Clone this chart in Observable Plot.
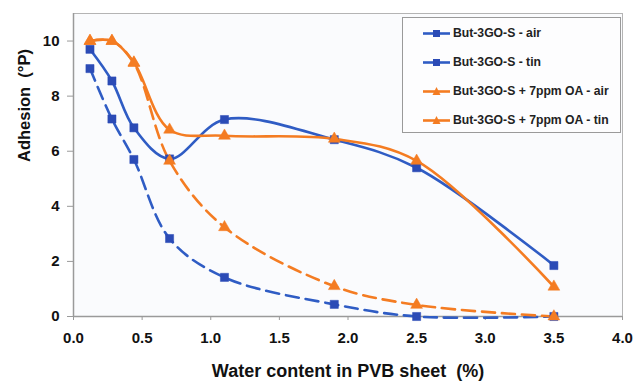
<!DOCTYPE html>
<html>
<head>
<meta charset="utf-8">
<script src="https://cdn.jsdelivr.net/npm/d3@7"></script>
<script src="https://cdn.jsdelivr.net/npm/@observablehq/plot@0.6"></script>
<style>
  body { margin: 0; background: #fff; }
  #wrap { position: relative; width: 633px; height: 386px; font-family: "Liberation Sans", Arial, sans-serif; }
  #legend { position: absolute; left: 402px; top: 17px; width: 219px; height: 116px; border: 1px solid #9a9a9a; background: #fdfdfe; box-sizing: border-box; }
  .item { position: absolute; left: 20px; height: 14px; display: flex; align-items: center; font-weight: bold; font-size: 12.2px; color: #222; white-space: nowrap; }
  .item svg { margin-right: 2px; }
</style>
</head>
<body>
<div id="wrap"><div id="chart"></div><div id="legend"></div></div>
<script>
const water = [0.12, 0.28, 0.44, 0.7, 1.1, 1.9, 2.5, 3.5];
const seriesNames = ["But-3GO-S - air", "But-3GO-S - tin", "But-3GO-S + 7ppm OA - air", "But-3GO-S + 7ppm OA - tin"];
const butAir = [9.7, 8.55, 6.85, 5.72, 7.15, 6.42, 5.4, 1.85];
const butTin = [9.0, 7.17, 5.7, 2.83, 1.42, 0.44, 0.0, 0.0];
const oaAir = [10.0, 10.0, 9.22, 6.78, 6.56, 6.45, 5.65, 1.08];
const oaTin = [10.0, 10.0, 9.2, 5.65, 3.24, 1.1, 0.42, 0.0];
const xTicks = [0, 0.5, 1, 1.5, 2, 2.5, 3, 3.5, 4];
const yTicks = [0, 2, 4, 6, 8, 10];

const blue = "#2b4bb6";
const blueLine = "#2f5cc4";
const orange = "#f47c22";

const seriesVals = [butAir, butTin, oaAir, oaTin];
const styles = [
  {stroke: blueLine, fill: blue, dash: null, symbol: "square", r: 4.6},
  {stroke: blueLine, fill: blue, dash: "13,7", symbol: "square", r: 4.6},
  {stroke: orange, fill: orange, dash: null, symbol: "triangle", r: 4.4},
  {stroke: orange, fill: orange, dash: "13,7", symbol: "triangle", r: 4.4}
];
const table = seriesNames.map((name, i) => water.map((x, j) => ({series: name, x, y: seriesVals[i][j]})));

const marks = [
  Plot.frame({fill: "#fafbfd", stroke: "#b4b4b4"}),
  Plot.ruleY([0], {stroke: "#9a9a9a", strokeWidth: 1.5}),
  Plot.ruleX([0], {stroke: "#9a9a9a", strokeWidth: 1.5}),
  Plot.axisY({ticks: yTicks, tickSize: 6, tickPadding: 8, label: null, stroke: "#9a9a9a", fontSize: 15, fontWeight: "bold"}),
  Plot.axisX({ticks: xTicks, tickSize: 4, tickPadding: 12, tickFormat: d => d.toFixed(1), label: null, stroke: "#9a9a9a", fontSize: 15, fontWeight: "bold"}),
  Plot.text(["Water content in PVB sheet  (%)"], {frameAnchor: "bottom", dy: 60, fontSize: 18, fontWeight: "bold", fill: "#111"}),
  Plot.text(["Adhesion  (°P)"], {frameAnchor: "left", dx: -49, dy: -3, rotate: -90, fontSize: 16.5, fontWeight: "bold", fill: "#111"})
];
[0, 1, 2, 3].forEach(i => {
  const s = styles[i];
  marks.push(Plot.line(table[i], {x: "x", y: "y", curve: "catmull-rom", stroke: s.stroke, strokeWidth: 2.6, strokeDasharray: s.dash}));
});
[0, 1, 2, 3].forEach(i => {
  const s = styles[i];
  marks.push(Plot.dot(table[i], {x: "x", y: "y", symbol: s.symbol, r: s.r, fill: s.fill, stroke: s.fill, strokeWidth: 0.5}));
});

const chart = Plot.plot({
  width: 633, height: 386,
  marginLeft: 73, marginRight: 11, marginTop: 13, marginBottom: 70,
  style: {fontFamily: "'Liberation Sans', Arial, sans-serif", color: "#111", background: "#fff"},
  x: {domain: [0, 4]},
  y: {domain: [0, 11]},
  marks
});
document.getElementById("chart").appendChild(chart);

const legend = document.getElementById("legend");
const tops = [8, 37, 66, 95];
seriesNames.forEach((name, i) => {
  const s = styles[i];
  const it = document.createElement("div");
  it.className = "item";
  it.style.top = tops[i] + "px";
  const marker = s.symbol === "square"
    ? `<rect x="10" y="4" width="7" height="7" fill="${s.fill}"/>`
    : `<path d="M13.5,3 L17.5,11 L9.5,11 Z" fill="${s.fill}"/>`;
  it.innerHTML = `<svg width="28" height="14"><line x1="0" y1="7.5" x2="27" y2="7.5" stroke="${s.stroke}" stroke-width="2.6"/>${marker}</svg><span>${name}</span>`;
  legend.appendChild(it);
});
</script>
</body>
</html>
